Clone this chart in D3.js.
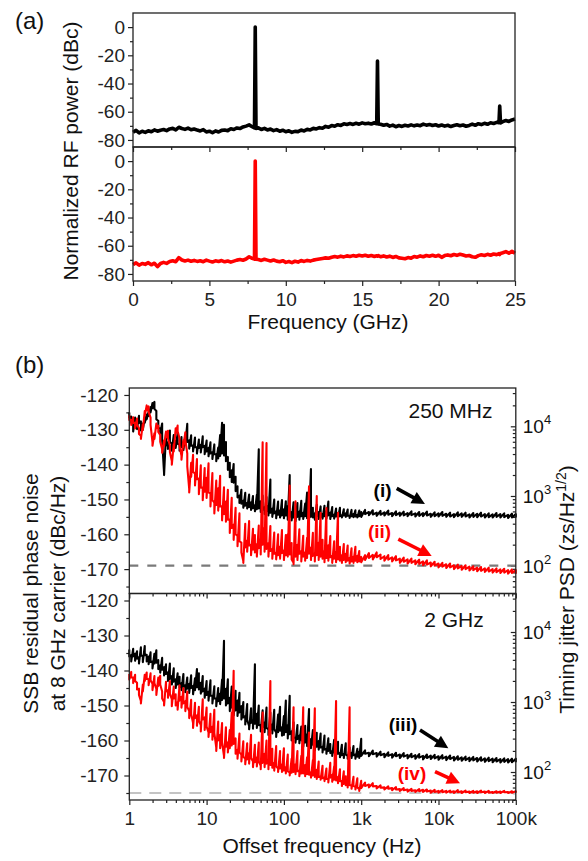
<!DOCTYPE html>
<html lang="en">
<head>
<meta charset="UTF-8">
<title>RF spectra and residual phase noise</title>
<script src="https://d3js.org/d3.v7.min.js"></script>
<style>
  body { margin: 0; background: #fff; }
  svg text { font-family: "Liberation Sans", Arial, sans-serif; }
</style>
</head>
<body>
<script>
// ---------- (a) normalized RF spectra ----------
var freqGHz = [
  0,0.2,0.4,0.6,0.8,1,1.2,1.4,1.6,1.8,
  2,2.2,2.4,2.6,2.8,3,3.2,3.4,3.6,3.8,
  4,4.2,4.4,4.6,4.8,5,5.2,5.4,5.6,5.8,
  6,6.2,6.4,6.6,6.8,7,7.2,7.4,7.6,7.8,
  7.95,8,8.05,
  8.2,8.4,8.6,8.8,9,9.2,9.4,9.6,9.8,10,
  10.2,10.4,10.6,10.8,11,11.2,11.4,11.6,11.8,12,
  12.2,12.4,12.6,12.8,13,13.2,13.4,13.6,13.8,14,
  14.2,14.4,14.6,14.8,15,15.2,15.4,15.6,15.8,
  15.95,16,16.05,
  16.2,16.4,16.6,16.8,17,17.2,17.4,17.6,17.8,18,
  18.2,18.4,18.6,18.8,19,19.2,19.4,19.6,19.8,20,
  20.2,20.4,20.6,20.8,21,21.2,21.4,21.6,21.8,22,
  22.2,22.4,22.6,22.8,23,23.2,23.4,23.6,23.8,
  23.95,24,24.05,
  24.2,24.4,24.6,24.8,25
];
// upper trace (black), dBc
var rfBlack = [
  -74.5,-73.2,-75.0,-73.8,-74.6,-73.5,-74.2,-72.9,-73.8,-73.1,
  -72.6,-73.4,-72.2,-71.8,-72.9,-71.0,-71.9,-72.5,-71.6,-72.8,
  -72.2,-73.0,-73.6,-72.7,-74.3,-73.8,-74.9,-73.6,-74.4,-73.2,
  -72.9,-73.4,-72.1,-72.6,-71.5,-71.9,-70.8,-70.2,-69.3,-70.6,
  -71.5,0,-71.8,
  -71.4,-72.6,-71.8,-72.9,-72.3,-73.4,-72.7,-73.8,-73.1,-74.2,
  -73.5,-74.6,-73.9,-74.1,-73.0,-73.6,-72.5,-72.9,-71.8,-72.2,
  -71.3,-71.7,-70.4,-71.0,-69.8,-70.3,-69.2,-69.7,-68.6,-69.1,
  -68.4,-69.0,-68.2,-68.8,-67.9,-68.5,-68.1,-68.7,-67.8,
  -68.5,-24,-68.6,
  -68.9,-69.6,-69.0,-70.2,-69.5,-70.6,-69.8,-70.4,-69.6,-70.1,
  -69.3,-70.0,-69.4,-69.9,-68.8,-69.5,-69.0,-69.8,-69.2,-70.1,
  -69.4,-70.2,-69.6,-70.5,-69.8,-69.2,-69.9,-69.4,-70.3,-69.7,
  -68.8,-69.6,-68.5,-69.1,-68.2,-68.9,-67.8,-68.3,-67.5,
  -67.8,-56,-68.0,
  -67.0,-66.2,-66.9,-65.8,-65.2
];
// lower trace (red), dBc
var rfRed = [
  -73.4,-72.1,-73.8,-72.6,-73.2,-72.0,-73.5,-72.4,-74.8,-72.6,
  -71.8,-72.5,-71.2,-70.6,-71.3,-68.4,-70.1,-70.8,-70.2,-71.0,
  -70.4,-71.1,-70.6,-71.3,-70.2,-70.9,-71.5,-70.7,-71.2,-70.5,
  -71.4,-70.8,-71.6,-70.9,-70.2,-69.8,-70.3,-69.4,-67.8,-68.9,
  -69.5,0,-69.6,
  -69.8,-70.4,-69.6,-70.2,-70.8,-70.1,-70.9,-71.3,-70.6,-71.8,
  -71.2,-72.0,-71.0,-71.6,-70.5,-71.1,-70.4,-70.9,-70.2,-69.8,
  -69.4,-69.0,-68.6,-68.9,-68.2,-67.7,-68.1,-67.4,-67.9,-67.2,
  -67.6,-67.0,-67.5,-66.8,-67.3,-66.7,-67.4,-66.9,-67.6,
  -67.1,-67.4,-66.9,
  -67.8,-67.2,-68.0,-67.4,-68.3,-67.6,-68.6,-68.9,-69.2,-68.4,
  -68.8,-67.6,-68.1,-67.2,-67.8,-66.9,-67.4,-66.8,-67.5,-66.7,
  -68.2,-67.0,-66.5,-67.1,-66.2,-66.8,-66.0,-66.6,-67.3,-66.9,
  -67.8,-68.2,-67.0,-66.4,-66.9,-66.1,-66.7,-65.9,-66.3,
  -65.6,-66.2,-65.5,
  -65.0,-64.2,-65.3,-64.0,-65.4
];
var rfTicks = [0, -20, -40, -60, -80];
var rfMinor = [-10, -30, -50, -70];
var freqTicks = [0, 5, 10, 15, 20, 25];
var freqMinor = [2.5, 7.5, 12.5, 17.5, 22.5];

// ---------- (b) SSB residual phase noise ----------
// offset frequency as log10(Hz)
var offsetLog10 = [
  0,0.025,0.05,0.075,0.1,0.125,0.15,0.175,0.2,0.225,
  0.25,0.275,0.3,0.325,0.35,0.375,0.4,0.425,0.45,0.475,
  0.5,0.525,0.55,0.575,0.6,0.625,0.65,0.675,0.7,0.725,
  0.75,0.775,0.8,0.825,0.85,0.875,0.9,0.925,0.95,0.975,
  1,1.025,1.05,1.075,1.1,1.125,1.15,1.175,1.2,1.225,
  1.25,1.275,1.3,1.325,1.35,1.375,1.4,1.425,1.45,1.475,
  1.5,1.525,1.55,1.575,1.6,1.625,1.65,1.675,1.7,1.725,
  1.75,1.775,1.8,1.825,1.85,1.875,1.9,1.925,1.95,1.975,
  2,2.025,2.05,2.075,2.1,2.125,2.15,2.175,2.2,2.225,
  2.25,2.275,2.3,2.325,2.35,2.375,2.4,2.425,2.45,2.475,
  2.5,2.525,2.55,2.575,2.6,2.625,2.65,2.675,2.7,2.725,
  2.75,2.775,2.8,2.825,2.85,2.875,2.9,2.925,2.95,2.975,3,
  3.05,3.1,3.15,3.2,3.25,3.3,3.35,3.4,3.45,3.5,
  3.55,3.6,3.65,3.7,3.75,3.8,3.85,3.9,3.95,4,
  4.05,4.1,4.15,4.2,4.25,4.3,4.35,4.4,4.45,4.5,
  4.55,4.6,4.65,4.7,4.75,4.8,4.85,4.9,4.95,5
];
// each trace: upper edge (peak) and lower edge of the noise in every bin, dBc/Hz
// 250 MHz, trace (i) black
var pn250i = [
  -125.0,-126.2,-127.8,-126.5,-127.3,-126.0,-127.6,-128.2,-126.4,-125.6,
  -124.8,-123.5,-122.3,-122.0,-124.6,-127.4,-129.6,-128.2,-142.5,-131.0,
  -133.5,-130.2,-134.0,-131.5,-133.2,-131.0,-134.2,-132.1,-133.6,-131.4,
  -128.3,-133.0,-131.6,-134.5,-132.2,-135.0,-132.8,-134.3,-131.9,-134.6,
  -133.1,-135.2,-133.6,-136.4,-134.2,-137.0,-135.1,-131.5,-128.0,-128.6,
  -133.5,-137.8,-139.5,-141.6,-139.8,-143.5,-146.2,-148.9,-147.2,-150.3,
  -148.1,-151.0,-148.6,-150.8,-149.0,-151.6,-148.7,-135.6,-150.5,-148.9,
  -152.2,-149.3,-151.8,-144.3,-152.6,-150.0,-153.4,-150.6,-153.1,-150.2,
  -152.8,-150.5,-151.9,-143.0,-153.6,-150.8,-154.2,-151.0,-153.5,-150.4,
  -153.8,-151.2,-148.0,-153.0,-141.3,-152.4,-154.0,-151.5,-153.6,-152.0,
  -154.1,-151.8,-153.4,-150.6,-153.8,-152.2,-154.3,-152.6,-153.9,-152.4,
  -154.5,-152.8,-154.0,-152.9,-154.6,-153.0,-154.2,-153.1,-154.4,-153.2,-153.6,
  -153.0,-153.6,-153.1,-153.8,-153.3,-153.7,-153.2,-153.9,-153.4,-153.8,
  -153.5,-153.9,-153.4,-154.0,-153.6,-153.9,-153.5,-154.1,-153.7,-154.0,
  -153.6,-154.1,-153.8,-154.2,-153.7,-154.0,-153.8,-154.3,-153.9,-154.1,
  -153.8,-154.2,-154.0,-154.3,-153.9,-154.2,-154.0,-154.4,-154.1,-154.2
];
var pn250iLo = [
  -126.5,-128.0,-130.5,-128.4,-129.8,-128.0,-130.2,-130.0,-128.0,-127.0,
  -126.0,-125.0,-123.8,-124.0,-127.0,-129.5,-131.0,-133.0,-143.0,-134.5,
  -135.5,-133.5,-136.0,-134.0,-135.2,-134.0,-136.0,-135.0,-135.8,-134.2,
  -133.5,-135.4,-134.6,-136.2,-135.0,-136.8,-135.2,-136.5,-135.0,-137.0,
  -136.2,-137.6,-136.8,-138.4,-137.0,-139.0,-138.2,-137.5,-136.8,-137.4,
  -139.0,-141.5,-143.6,-145.0,-145.2,-147.6,-149.4,-151.0,-151.2,-152.4,
  -151.8,-152.6,-152.2,-153.0,-152.5,-153.4,-152.8,-152.6,-153.6,-153.0,
  -154.2,-153.4,-154.6,-153.8,-155.0,-154.0,-155.4,-154.4,-155.2,-154.6,
  -155.4,-154.6,-155.8,-155.0,-156.0,-155.2,-156.2,-155.0,-155.8,-154.8,
  -155.6,-154.8,-155.4,-155.8,-155.0,-155.2,-155.8,-154.8,-155.6,-155.0,
  -155.5,-154.8,-155.4,-154.6,-155.6,-154.8,-155.5,-154.9,-155.3,-154.8,
  -155.2,-154.6,-155.0,-154.7,-155.3,-154.8,-155.1,-154.9,-155.2,-154.8,-155.0,
  -154.2,-154.5,-154.3,-154.7,-154.4,-154.6,-154.4,-154.8,-154.5,-154.7,
  -154.6,-154.8,-154.5,-154.9,-154.7,-154.8,-154.6,-155.0,-154.8,-154.9,
  -154.7,-155.0,-154.9,-155.1,-154.8,-155.0,-154.9,-155.2,-155.0,-155.1,
  -154.9,-155.2,-155.1,-155.2,-155.0,-155.2,-155.1,-155.3,-155.2,-155.2
];
// 250 MHz, trace (ii) red
var pn250ii = [
  -125.8,-127.2,-126.4,-128.0,-126.8,-129.5,-131.7,-128.4,-124.6,-123.0,
  -123.3,-126.5,-133.6,-131.0,-128.2,-128.8,-131.5,-135.6,-133.0,-130.5,
  -130.3,-134.5,-139.0,-134.2,-129.6,-128.8,-132.4,-137.5,-133.0,-130.7,
  -136.8,-147.0,-139.5,-137.2,-142.6,-138.4,-144.0,-140.2,-146.5,-141.0,
  -143.8,-139.6,-148.2,-142.4,-150.9,-144.6,-146.8,-143.2,-152.0,-146.5,
  -150.6,-147.2,-155.8,-149.5,-157.2,-152.4,-160.5,-154.0,-162.4,-167.7,
  -157.0,-161.8,-156.2,-163.0,-158.4,-160.2,-162.8,-157.5,-161.4,-133.6,
  -158.2,-133.8,-162.5,-157.6,-164.2,-159.5,-165.3,-160.0,-163.5,-158.8,
  -164.6,-160.2,-160.0,-146.0,-162.5,-168.2,-150.5,-163.0,-158.6,-164.8,
  -160.4,-165.2,-161.0,-146.2,-163.8,-159.6,-165.5,-149.0,-162.4,-153.8,
  -161.6,-164.8,-152.5,-163.2,-160.5,-166.2,-162.0,-165.0,-153.8,-163.6,
  -166.0,-162.8,-165.6,-163.2,-166.8,-164.0,-166.4,-163.6,-166.2,-164.8,-166.5,
  -166.0,-165.4,-165.9,-165.2,-165.8,-166.3,-166.0,-166.6,-166.3,-167.0,
  -166.7,-167.2,-167.0,-167.5,-167.3,-167.8,-167.5,-168.1,-167.9,-168.4,
  -168.2,-168.6,-168.4,-168.9,-168.7,-169.1,-168.9,-169.3,-169.2,-169.6,
  -169.4,-169.8,-169.6,-170.0,-169.8,-170.1,-169.9,-170.3,-170.1,-170.3
];
var pn250iiLo = [
  -127.2,-128.6,-128.0,-129.6,-128.6,-131.2,-132.6,-130.0,-126.0,-124.4,
  -124.8,-128.6,-134.6,-132.6,-129.6,-130.6,-133.4,-136.6,-134.6,-132.2,
  -132.4,-136.4,-140.0,-136.2,-131.2,-130.4,-134.6,-138.6,-135.0,-133.0,
  -140.5,-148.0,-143.5,-142.0,-146.0,-144.2,-148.5,-146.6,-150.2,-147.8,
  -149.6,-148.0,-152.0,-150.2,-154.0,-151.6,-153.2,-152.0,-156.0,-154.2,
  -156.4,-155.8,-159.6,-158.2,-161.6,-160.0,-163.4,-162.0,-165.2,-168.2,
  -163.8,-165.0,-163.2,-166.0,-164.4,-165.2,-166.4,-164.0,-165.8,-163.0,
  -165.0,-164.2,-166.4,-164.8,-167.0,-165.6,-167.2,-166.0,-167.0,-165.4,
  -167.4,-166.0,-166.4,-165.8,-167.2,-168.6,-166.4,-167.4,-165.6,-167.8,
  -166.4,-167.6,-166.8,-165.6,-167.4,-166.2,-167.8,-166.0,-167.4,-166.4,
  -167.0,-168.0,-166.8,-167.6,-166.6,-168.2,-167.0,-168.0,-167.2,-167.6,
  -168.2,-167.4,-168.0,-167.6,-168.4,-167.8,-168.2,-167.6,-168.0,-167.8,-168.0,
  -167.4,-166.8,-167.2,-166.6,-167.1,-167.6,-167.3,-167.8,-167.5,-168.2,
  -167.9,-168.4,-168.2,-168.6,-168.5,-168.9,-168.7,-169.2,-169.0,-169.5,
  -169.3,-169.7,-169.5,-170.0,-169.8,-170.2,-170.0,-170.4,-170.3,-170.6,
  -170.5,-170.8,-170.7,-171.0,-170.9,-171.1,-171.0,-171.3,-171.1,-171.3
];
// 2 GHz, trace (iii) black
var pn2gIii = [
  -134.0,-135.6,-133.8,-135.2,-134.5,-136.2,-133.4,-135.8,-133.0,-135.5,
  -136.0,-134.8,-137.4,-135.2,-134.2,-137.0,-138.5,-136.4,-139.0,-138.2,
  -140.5,-138.0,-141.6,-139.4,-142.5,-140.8,-141.8,-143.6,-141.0,-144.2,
  -142.0,-143.8,-141.4,-144.4,-142.2,-139.6,-140.8,-143.5,-141.6,-145.2,
  -143.0,-146.0,-142.8,-147.2,-144.5,-148.0,-145.0,-146.6,-142.6,-131.5,
  -145.2,-142.5,-147.8,-144.6,-149.1,-145.8,-148.6,-146.4,-150.2,-149.0,
  -153.0,-149.6,-155.8,-150.8,-154.2,-138.2,-152.4,-150.0,-155.6,-151.4,
  -154.8,-150.6,-156.8,-152.0,-155.4,-151.2,-157.7,-152.6,-150.4,-156.2,
  -153.0,-148.6,-155.6,-147.2,-157.4,-154.8,-159.2,-155.6,-158.6,-156.0,
  -160.4,-155.8,-158.2,-151.0,-159.6,-157.0,-161.5,-157.8,-160.2,-158.0,
  -161.8,-158.6,-162.4,-159.4,-161.0,-163.0,-159.8,-162.2,-160.4,-163.6,
  -161.2,-163.8,-160.8,-164.4,-162.0,-163.5,-161.6,-164.0,-162.4,-163.2,-159.5,
  -162.8,-163.5,-162.9,-163.6,-163.2,-163.8,-163.4,-163.9,-163.5,-164.0,
  -163.6,-164.1,-163.8,-164.2,-163.9,-164.4,-164.0,-164.3,-164.1,-164.5,
  -164.2,-164.6,-164.3,-164.7,-164.5,-164.8,-164.6,-164.9,-164.7,-165.0,
  -164.8,-165.1,-164.9,-165.2,-165.0,-165.3,-165.1,-165.3,-165.2,-165.2
];
var pn2gIiiLo = [
  -136.0,-137.4,-136.0,-137.2,-136.6,-138.0,-135.8,-137.6,-135.6,-137.4,
  -138.2,-137.6,-139.4,-138.0,-137.8,-139.6,-140.6,-139.8,-141.4,-141.0,
  -143.0,-142.4,-144.0,-143.2,-145.0,-144.0,-144.8,-145.6,-144.6,-146.2,
  -145.2,-146.4,-145.0,-146.8,-145.6,-144.8,-145.4,-146.6,-146.0,-147.8,
  -147.0,-148.6,-147.2,-149.4,-148.0,-150.2,-148.8,-149.6,-148.4,-148.0,
  -150.0,-149.4,-151.6,-150.6,-152.8,-151.4,-153.0,-152.0,-154.0,-153.4,
  -155.4,-154.2,-156.8,-155.0,-156.6,-155.2,-156.4,-155.6,-157.4,-156.2,
  -157.6,-156.4,-158.4,-157.0,-158.0,-156.8,-159.0,-157.6,-157.2,-158.6,
  -158.4,-157.6,-159.4,-158.2,-160.0,-159.2,-160.6,-159.6,-160.8,-159.8,
  -161.8,-160.6,-161.6,-160.8,-162.2,-161.2,-162.8,-161.8,-162.6,-162.0,
  -163.4,-162.6,-163.8,-163.0,-163.6,-164.4,-163.4,-164.2,-163.8,-164.8,
  -164.2,-165.0,-164.0,-165.2,-164.4,-165.0,-164.2,-165.2,-164.6,-165.0,-164.4,
  -163.8,-164.5,-163.9,-164.6,-164.2,-164.8,-164.4,-164.9,-164.5,-165.0,
  -164.6,-165.1,-164.8,-165.2,-164.9,-165.4,-165.0,-165.3,-165.1,-165.5,
  -165.2,-165.6,-165.3,-165.7,-165.5,-165.8,-165.6,-165.9,-165.7,-166.0,
  -165.8,-166.1,-165.9,-166.2,-166.0,-166.3,-166.1,-166.3,-166.2,-166.2
];
// 2 GHz, trace (iv) red
var pn2gIv = [
  -141.0,-140.4,-142.0,-141.2,-143.5,-145.2,-148.7,-144.0,-141.2,-140.6,
  -142.5,-140.8,-143.8,-141.6,-145.3,-142.0,-141.5,-146.0,-149.0,-143.2,
  -145.6,-143.0,-148.2,-144.6,-146.8,-149.0,-144.2,-147.5,-145.0,-148.8,
  -146.0,-151.6,-148.4,-155.0,-149.2,-152.8,-150.4,-155.6,-148.2,-153.4,
  -150.6,-157.7,-152.4,-156.0,-151.2,-162.0,-154.6,-158.4,-155.0,-164.4,
  -156.2,-160.5,-157.0,-152.0,-140.1,-159.4,-162.6,-158.0,-164.0,-160.2,
  -165.2,-160.8,-163.6,-158.4,-166.0,-161.2,-164.8,-160.6,-167.2,-152.0,
  -163.8,-160.0,-165.6,-143.0,-162.4,-166.4,-161.6,-168.0,-163.0,-166.8,
  -162.2,-167.6,-164.0,-169.1,-165.2,-150.5,-166.8,-163.0,-168.6,-164.4,
  -150.5,-167.0,-164.8,-157.7,-169.0,-165.6,-150.8,-168.4,-166.0,-170.2,
  -167.2,-170.6,-168.0,-171.0,-166.4,-169.8,-167.4,-148.7,-170.4,-168.2,
  -171.6,-168.8,-170.2,-172.0,-150.5,-172.8,-170.4,-173.2,-170.8,-173.9,-171.5,
  -172.0,-172.6,-172.2,-173.0,-172.8,-173.4,-173.1,-173.6,-173.3,-173.9,
  -173.6,-174.0,-173.8,-174.2,-173.9,-174.1,-174.0,-174.3,-174.1,-174.4,
  -174.2,-174.4,-174.3,-174.5,-174.2,-174.5,-174.3,-174.6,-174.4,-174.5,
  -174.3,-174.6,-174.4,-174.7,-174.5,-174.6,-174.4,-174.7,-174.5,-174.5
];
var pn2gIvLo = [
  -142.6,-142.0,-143.6,-143.0,-145.4,-147.0,-149.4,-146.0,-143.0,-142.4,
  -144.2,-142.8,-145.6,-143.6,-147.0,-144.4,-144.0,-148.0,-150.0,-146.0,
  -147.8,-146.6,-150.2,-148.0,-150.0,-151.2,-148.6,-150.6,-149.4,-151.6,
  -150.4,-153.6,-152.4,-156.4,-153.6,-155.8,-154.4,-157.4,-154.0,-157.0,
  -156.0,-159.0,-157.6,-159.8,-157.8,-163.0,-160.0,-162.2,-160.6,-165.0,
  -161.8,-163.4,-162.2,-161.4,-161.0,-163.8,-165.2,-163.4,-166.0,-164.6,
  -166.8,-165.4,-166.6,-165.0,-167.6,-166.2,-167.4,-166.0,-168.2,-166.4,
  -167.6,-166.6,-168.2,-167.0,-167.8,-168.6,-167.4,-169.0,-168.0,-169.0,
  -168.6,-169.4,-168.8,-170.0,-169.2,-169.0,-169.6,-168.8,-170.2,-169.4,
  -169.4,-170.2,-169.6,-169.8,-170.6,-170.0,-170.4,-171.0,-170.4,-171.2,
  -170.8,-171.6,-171.0,-172.0,-170.6,-171.8,-171.2,-171.4,-172.2,-171.6,
  -173.0,-172.4,-172.8,-173.4,-172.8,-173.8,-173.0,-174.0,-173.4,-174.4,-173.6,
  -173.0,-173.4,-173.1,-173.7,-173.5,-174.0,-173.8,-174.2,-174.0,-174.4,
  -174.2,-174.6,-174.4,-174.7,-174.5,-174.7,-174.6,-174.9,-174.7,-174.9,
  -174.8,-174.9,-174.8,-175.0,-174.8,-175.0,-174.8,-175.0,-174.9,-175.0,
  -174.8,-175.0,-174.9,-175.0,-174.9,-175.0,-174.8,-175.0,-174.9,-174.9
];
var floor250 = -169;   // grey dashed, upper
var floor2g = -175;    // grey dashed, lower
var pnTicks = [-120, -130, -140, -150, -160, -170];
var pnMinor = [-125, -135, -145, -155, -165, -175];
var offsetTicks = [1, 10, 100, 1000, 10000, 100000];
var offsetLabels = ["1", "10", "100", "1k", "10k", "100k"];
var jitterTicks = [100, 1000, 10000];
var jitterExp = ["2", "3", "4"];

// ---------- layout ----------
var W = 588, H = 861;
var svg = d3.select("body").append("svg").attr("width", W).attr("height", H);

var aL = 133, aR = 515, aT = 13, aM = 147, aB = 281;
var bL = 129.3, bR = 515.8, bT = 388, bM = 593.5, bB = 800;

var xA = d3.scaleLinear().domain([0, 25]).range([aL, aR]);
var yA1 = d3.scaleLinear().domain([-85, 10]).range([aM, aT]);
var yA2 = d3.scaleLinear().domain([-85, 10]).range([aB, aM]);

var xB = d3.scaleLog().domain([1, 1e5]).range([bL, bR]);
var yB1 = d3.scaleLinear().domain([-177, -118]).range([bM, bT]);
var yB2 = d3.scaleLinear().domain([-177, -118]).range([bB, bM]);

// timing jitter PSD (zs/Hz^1/2) for an 8 GHz carrier: 100 zs <-> -169 dBc/Hz
function toJitter(L) { return 100 * Math.pow(10, (L + 169) / 20); }
var yR1 = d3.scaleLog().domain([toJitter(-177), toJitter(-118)]).range([bM, bT]);
var yR2 = d3.scaleLog().domain([toJitter(-177), toJitter(-118)]).range([bB, bM]);

var ink = "#222";

function tidy(g, size) {
    g.select(".domain").remove();
    g.attr("font-size", size).attr("color", ink);
    g.selectAll("line").attr("stroke-width", 1.2);
}

function frame(x0, x1, y0, y1) {
    svg.append("rect")
        .attr("x", x0).attr("y", y0)
        .attr("width", x1 - x0).attr("height", y1 - y0)
        .attr("fill", "none").attr("stroke", ink).attr("stroke-width", 1.3);
}

// ---------- panel (a) ----------
[yA1, yA2].forEach(function (y) {
    svg.append("g").attr("transform", "translate(" + aL + ",0)")
        .call(d3.axisLeft(y).tickValues(rfTicks).tickSize(5).tickPadding(3).tickFormat(function (d) { return d; }))
        .call(tidy, 19);
    svg.append("g").attr("transform", "translate(" + aL + ",0)")
        .call(d3.axisLeft(y).tickValues(rfMinor).tickSize(3).tickFormat(""))
        .call(tidy, 19);
});
[aM, aB].forEach(function (yb) {
    svg.append("g").attr("transform", "translate(0," + yb + ")")
        .call(d3.axisBottom(xA).tickValues(freqTicks).tickSize(5).tickPadding(7)
            .tickFormat(yb === aB ? function (d) { return d; } : ""))
        .call(tidy, 19);
    svg.append("g").attr("transform", "translate(0," + yb + ")")
        .call(d3.axisBottom(xA).tickValues(freqMinor).tickSize(3).tickFormat(""))
        .call(tidy, 19);
});

var lineA1 = d3.line().x(function (d, i) { return xA(freqGHz[i]); }).y(function (d) { return yA1(d); });
var lineA2 = d3.line().x(function (d, i) { return xA(freqGHz[i]); }).y(function (d) { return yA2(d); });
svg.append("path").datum(rfBlack).attr("d", lineA1)
    .attr("fill", "none").attr("stroke", "#000").attr("stroke-width", 3.6).attr("stroke-linejoin", "round");
svg.append("path").datum(rfRed).attr("d", lineA2)
    .attr("fill", "none").attr("stroke", "#ff0000").attr("stroke-width", 3.6).attr("stroke-linejoin", "round");

frame(aL, aR, aT, aM);
frame(aL, aR, aM, aB);

svg.append("text").attr("x", 15).attr("y", 29).attr("font-size", 24).attr("fill", "#111").text("(a)");
svg.append("text")
    .attr("transform", "translate(78," + ((aT + aB) / 2 + 4) + ") rotate(-90)")
    .attr("text-anchor", "middle").attr("font-size", 21).attr("fill", "#111")
    .text("Normalized RF power (dBc)");
svg.append("text").attr("x", (aL + aR) / 2 + 4).attr("y", 329)
    .attr("text-anchor", "middle").attr("font-size", 21).attr("fill", "#111")
    .text("Frequency (GHz)");

// ---------- panel (b) ----------
var logMinor = [];
[1, 10, 100, 1000, 10000].forEach(function (dec) {
    for (var k = 2; k <= 9; k++) logMinor.push(dec * k);
});
var jitMinor = [];
[10, 100, 1000, 10000].forEach(function (dec) {
    for (var k = 2; k <= 9; k++) {
        var v = dec * k;
        if (v >= yR1.domain()[0] && v <= yR1.domain()[1]) jitMinor.push(v);
    }
});

[[yB1, yR1, bT, bM], [yB2, yR2, bM, bB]].forEach(function (p) {
    var y = p[0], yr = p[1];
    svg.append("g").attr("transform", "translate(" + bL + ",0)")
        .call(d3.axisLeft(y).tickValues(pnTicks).tickSize(5).tickPadding(6).tickFormat(function (d) { return d; }))
        .call(tidy, 19);
    svg.append("g").attr("transform", "translate(" + bL + ",0)")
        .call(d3.axisLeft(y).tickValues(pnMinor).tickSize(3).tickFormat(""))
        .call(tidy, 19);
    // right log axis, ticks inward
    svg.append("g").attr("transform", "translate(" + bR + ",0)")
        .call(d3.axisRight(yr).tickValues(jitterTicks).tickSize(-5).tickFormat(""))
        .call(tidy, 19);
    svg.append("g").attr("transform", "translate(" + bR + ",0)")
        .call(d3.axisRight(yr).tickValues(jitMinor).tickSize(-3).tickFormat(""))
        .call(tidy, 19);
    jitterTicks.forEach(function (t, i) {
        var tx = svg.append("text").attr("x", bR + 7).attr("y", yr(t) + 7)
            .attr("font-size", 19).attr("fill", "#111");
        tx.append("tspan").text("10");
        tx.append("tspan").attr("dy", -9).attr("font-size", 13).text(jitterExp[i]);
    });
    var yb = p[3];
    svg.append("g").attr("transform", "translate(0," + yb + ")")
        .call(d3.axisBottom(xB).tickValues(offsetTicks).tickSize(5).tickPadding(7)
            .tickFormat(yb === bB ? function (d, i) { return offsetLabels[i]; } : ""))
        .call(tidy, 19);
    svg.append("g").attr("transform", "translate(0," + yb + ")")
        .call(d3.axisBottom(xB).tickValues(logMinor).tickSize(3).tickFormat(""))
        .call(tidy, 19);
});

// grey dashed reference floors
svg.append("line")
    .attr("x1", xB(1)).attr("x2", xB(1e5)).attr("y1", yB1(floor250)).attr("y2", yB1(floor250))
    .attr("stroke", "#7a7a7a").attr("stroke-width", 2.2).attr("stroke-dasharray", "9,9");
svg.append("line")
    .attr("x1", xB(1)).attr("x2", xB(1e5)).attr("y1", yB2(floor2g)).attr("y2", yB2(floor2g))
    .attr("stroke", "#c4c4c4").attr("stroke-width", 2.2).attr("stroke-dasharray", "12,8");

// each bin drawn from its peak to its low edge, then on to the next bin
function trace(hi, lo, y, color) {
    var pts = [];
    offsetLog10.forEach(function (e, i) {
        pts.push([e, hi[i]]);
        pts.push([e, lo[i]]);
    });
    var line = d3.line()
        .x(function (d) { return xB(Math.pow(10, d[0])); })
        .y(function (d) { return y(d[1]); });
    svg.append("path").datum(pts).attr("d", line)
        .attr("fill", "none").attr("stroke", color)
        .attr("stroke-width", 2.1).attr("stroke-linejoin", "round");
}
trace(pn250i, pn250iLo, yB1, "#000");
trace(pn250ii, pn250iiLo, yB1, "#ff0000");
trace(pn2gIii, pn2gIiiLo, yB2, "#000");
trace(pn2gIv, pn2gIvLo, yB2, "#ff0000");

frame(bL, bR, bT, bM);
frame(bL, bR, bM, bB);

// annotations (data coordinates: Hz, dBc/Hz)
function arrow(f1, L1, f2, L2, y, color) {
    var x1 = xB(f1), y1 = y(L1), x2 = xB(f2), y2 = y(L2);
    var dx = x2 - x1, dy = y2 - y1, len = Math.sqrt(dx * dx + dy * dy);
    var ux = dx / len, uy = dy / len, hl = 13, hw = 6.5;
    var bx = x2 - ux * hl, by = y2 - uy * hl;
    svg.append("line").attr("x1", x1).attr("y1", y1).attr("x2", bx + ux).attr("y2", by + uy)
        .attr("stroke", color).attr("stroke-width", 3.6);
    svg.append("path")
        .attr("d", "M" + x2 + "," + y2 + "L" + (bx - uy * hw) + "," + (by + ux * hw) +
            "L" + (bx + uy * hw) + "," + (by - ux * hw) + "Z")
        .attr("fill", color);
}
function label(txt, f, L, y, color, size, weight) {
    svg.append("text").attr("x", xB(f)).attr("y", y(L))
        .attr("text-anchor", "middle").attr("dominant-baseline", "central")
        .attr("font-size", size).attr("font-weight", weight).attr("fill", color).text(txt);
}
label("250 MHz", 14300, -124.5, yB1, "#111", 21, "normal");
label("2 GHz", 15850, -125.3, yB2, "#111", 21, "normal");
label("(i)", 1888, -147.3, yB1, "#000", 19, "bold");
arrow(2880, -146.8, 6680, -151.3, yB1, "#000");
label("(ii)", 1726, -159.1, yB1, "#ff0000", 19, "bold");
arrow(3020, -161.4, 8170, -166.2, yB1, "#ff0000");
label("(iii)", 3475, -155.3, yB2, "#000", 19, "bold");
arrow(5765, -157, 13400, -162.2, yB2, "#000");
label("(iv)", 4540, -169.4, yB2, "#ff0000", 19, "bold");
arrow(9020, -168.9, 18970, -172.2, yB2, "#ff0000");

svg.append("text").attr("x", 15).attr("y", 373).attr("font-size", 24).attr("fill", "#111").text("(b)");
svg.append("text")
    .attr("transform", "translate(38," + bM + ") rotate(-90)")
    .attr("text-anchor", "middle").attr("font-size", 21).attr("fill", "#111")
    .text("SSB residual phase noise");
svg.append("text")
    .attr("transform", "translate(65," + bM + ") rotate(-90)")
    .attr("text-anchor", "middle").attr("font-size", 21).attr("fill", "#111")
    .text("at 8 GHz carrier (dBc/Hz)");
var rl = svg.append("text")
    .attr("transform", "translate(574," + (bM - 4) + ") rotate(-90)")
    .attr("text-anchor", "middle").attr("font-size", 21).attr("fill", "#111");
rl.append("tspan").text("Timing jitter PSD (zs/Hz");
rl.append("tspan").attr("dy", -8).attr("font-size", 14).text("1/2");
rl.append("tspan").attr("dy", 8).text(")");
svg.append("text").attr("x", 322).attr("y", 853)
    .attr("text-anchor", "middle").attr("font-size", 21).attr("fill", "#111")
    .text("Offset frequency (Hz)");
</script>
</body>
</html>
